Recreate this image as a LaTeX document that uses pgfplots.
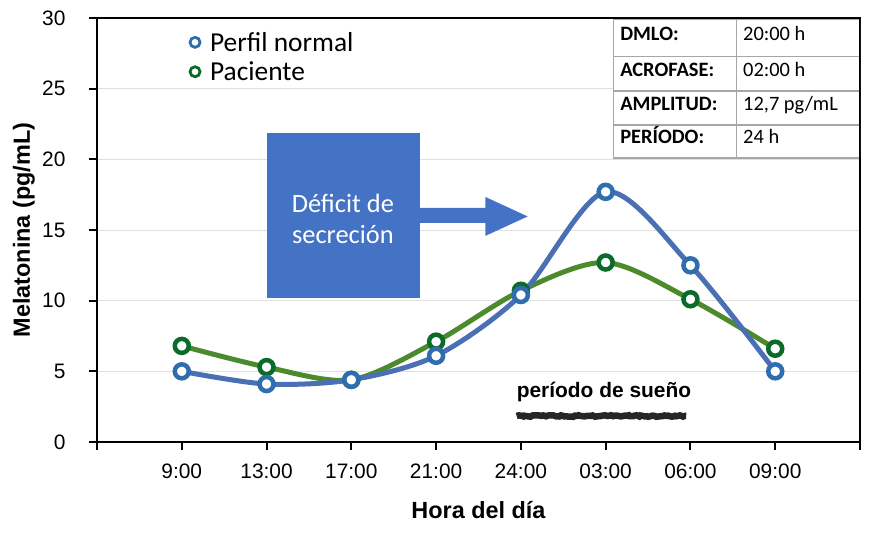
\documentclass[border=0pt]{standalone}
\usepackage{fontspec}
\setmainfont{Carlito}
\newfontfamily\arial{Liberation Sans}
\usepackage{pgfplots}
\pgfplotsset{compat=1.18}
\usetikzlibrary{decorations.pathmorphing}
\definecolor{bline}{RGB}{74,111,181}
\definecolor{bmark}{RGB}{47,109,175}
\definecolor{gline}{RGB}{75,139,43}
\definecolor{gmark}{RGB}{10,107,42}
\definecolor{boxblue}{RGB}{68,114,196}
\begin{document}
\begin{tikzpicture}
\useasboundingbox (-97bp,-93bp) rectangle (788bp,442bp);
\begin{axis}[
  at={(0,0)}, anchor=south west,
  scale only axis, width=763bp, height=424bp,
  xmin=0, xmax=9, ymin=0, ymax=30,
  xtick={0,...,9},
  xticklabels={,9:00,13:00,17:00,21:00,24:00,03:00,06:00,09:00,},
  ytick={0,5,...,30},
  xtick pos=bottom, ytick pos=left,
  tick align=outside, major tick length=8bp,
  tick style={black, line width=2bp},
  axis line style={black, line width=2.5bp},
  ymajorgrids, grid style={black!12, line width=0.8bp},
  /pgf/number format/assume math mode=true,
  ticklabel style={font=\arial\fontsize{21}{23}\selectfont},
  xticklabel style={yshift=-10bp},
  yticklabel style={xshift=-20bp},
  xlabel={Hora del día},
  ylabel={Melatonina (pg/mL)},
  label style={font=\arial\bfseries\fontsize{23.5}{25}\selectfont},
  xlabel style={yshift=-16bp},
  ylabel style={at={(axis description cs:-0.096,0.5)}, anchor=center},
  legend style={at={(axis cs:1.06,29.3)}, anchor=north west, draw=none, fill=none,
    font=\fontsize{27.5}{29}\selectfont, row sep=5bp,
    /tikz/every odd column/.append style={column sep=8bp}},
  legend cell align=left,
]
\addlegendimage{only marks, mark=*, mark size=5bp, mark options={draw=bmark, fill=white, line width=2.8bp}}
\addlegendentry{Perfil normal}
\addlegendimage{only marks, mark=*, mark size=5bp, mark options={draw=gmark, fill=white, line width=2.8bp}}
\addlegendentry{Paciente}

% annotation box and arrow
\fill[boxblue] (axis cs:3.78,16.56) -- (axis cs:4.58,16.56) -- (axis cs:4.58,17.34) -- (axis cs:5.08,15.96) -- (axis cs:4.58,14.58) -- (axis cs:4.58,15.50) -- (axis cs:3.78,15.50) -- cycle;
\fill[boxblue] (axis cs:2.005,21.86) rectangle (axis cs:3.81,10.19);
\node[white, align=center, font=\fontsize{26.5}{31}\selectfont] at (axis cs:2.9,15.8) {Déficit de\\secreción};

% sleep period
\node[font=\arial\bfseries\fontsize{21}{23}\selectfont] at (axis cs:5.98,3.55) {período de sueño};
\draw[black!85, line width=6.5bp, decorate, decoration={random steps, segment length=2bp, amplitude=0.8bp}] (axis cs:4.95,1.84) -- (axis cs:6.95,1.84);

\addplot[forget plot, smooth, gline, line width=5bp, mark=*, mark size=7bp,
  mark options={draw=gmark, fill=white, line width=4.5bp}]
  coordinates {(1,6.8) (2,5.3) (3,4.4) (4,7.1) (5,10.7) (6,12.7) (7,10.1) (8,6.6)};
\addplot[forget plot, smooth, bline, line width=5bp, mark=*, mark size=7bp,
  mark options={draw=bmark, fill=white, line width=4.5bp}]
  coordinates {(1,5.0) (2,4.1) (3,4.4) (4,6.1) (5,10.4) (6,17.7) (7,12.5) (8,5.0)};

% table
\fill[white] (axis cs:6.09,29.87) rectangle (axis cs:9,20.1);
\draw[black!35, line width=1.2bp] (axis cs:6.09,29.87) rectangle (axis cs:9,20.1);
\draw[black!35, line width=1.2bp] (axis cs:7.54,29.87) -- (axis cs:7.54,20.1);
\draw[black!35, line width=1.2bp] (axis cs:6.09,27.25) -- (axis cs:9,27.25);
\draw[black!35, line width=1.2bp] (axis cs:6.09,24.84) -- (axis cs:9,24.84);
\draw[black!35, line width=1.2bp] (axis cs:6.09,22.43) -- (axis cs:9,22.43);
\draw[black, line width=2.5bp] (axis cs:9,30) -- (axis cs:9,20);
\node[anchor=west, inner sep=0pt, text height=0.65em, text depth=0.15em, font=\bfseries\fontsize{20.5}{22}\selectfont] at (axis cs:6.17,28.56) {DMLO:};
\node[anchor=west, inner sep=0pt, text height=0.65em, text depth=0.15em, font=\bfseries\fontsize{20.5}{22}\selectfont] at (axis cs:6.17,26.05) {ACROFASE:};
\node[anchor=west, inner sep=0pt, text height=0.65em, text depth=0.15em, font=\bfseries\fontsize{20.5}{22}\selectfont] at (axis cs:6.17,23.64) {AMPLITUD:};
\node[anchor=west, inner sep=0pt, text height=0.65em, text depth=0.15em, font=\bfseries\fontsize{20.5}{22}\selectfont] at (axis cs:6.17,21.27) {PERÍODO:};
\node[anchor=west, inner sep=0pt, text height=0.65em, text depth=0.15em, font=\fontsize{20.5}{22}\selectfont] at (axis cs:7.62,28.56) {20:00 h};
\node[anchor=west, inner sep=0pt, text height=0.65em, text depth=0.15em, font=\fontsize{20.5}{22}\selectfont] at (axis cs:7.62,26.05) {02:00 h};
\node[anchor=west, inner sep=0pt, text height=0.65em, text depth=0.15em, font=\fontsize{20.5}{22}\selectfont] at (axis cs:7.62,23.64) {12,7 pg/mL};
\node[anchor=west, inner sep=0pt, text height=0.65em, text depth=0.15em, font=\fontsize{20.5}{22}\selectfont] at (axis cs:7.62,21.27) {24 h};
\end{axis}
\end{tikzpicture}
\end{document}
